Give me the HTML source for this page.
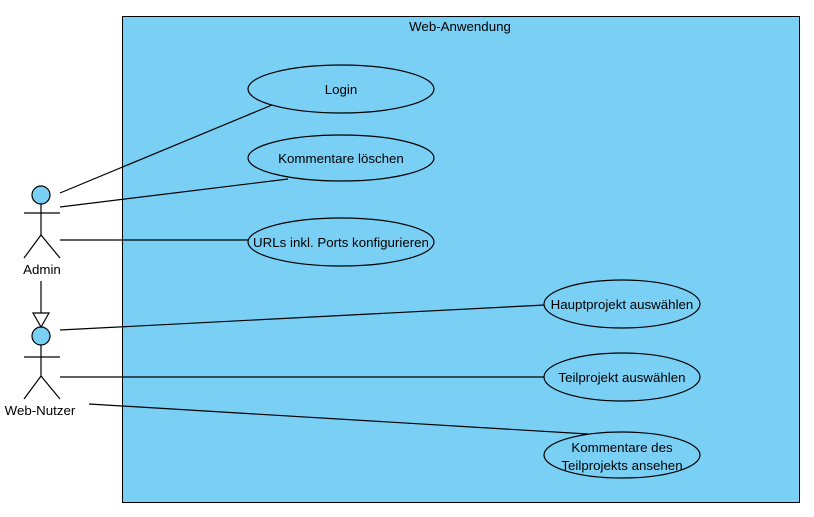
<!DOCTYPE html>
<html><head><meta charset="utf-8"><style>html,body{margin:0;padding:0;background:#fff}svg{display:block}</style></head>
<body>
<svg width="814" height="517" xmlns="http://www.w3.org/2000/svg" font-family="Liberation Sans, sans-serif" font-size="13.3" fill="#000">
<rect x="122.5" y="16.5" width="677" height="486" fill="#7acff5" stroke="#000" stroke-width="1"/>
<text x="460" y="31" text-anchor="middle">Web-Anwendung</text>
<g stroke="#000" stroke-width="1.2" fill="none">
<line x1="60" y1="193" x2="272" y2="105"/>
<line x1="60" y1="207" x2="288" y2="179"/>
<line x1="60" y1="240" x2="249" y2="240"/>
<line x1="60" y1="330" x2="545" y2="305"/>
<line x1="60" y1="377" x2="544" y2="377"/>
<line x1="89" y1="404" x2="588" y2="434"/>
</g>
<g stroke="#000" stroke-width="1.2" fill="#7acff5">
<ellipse cx="341" cy="89" rx="93" ry="24"/>
<ellipse cx="341" cy="158" rx="93" ry="23"/>
<ellipse cx="341" cy="242" rx="93" ry="24"/>
<ellipse cx="622" cy="304" rx="78" ry="24"/>
<ellipse cx="622" cy="377" rx="78" ry="24"/>
<ellipse cx="622" cy="455" rx="78" ry="23"/>
</g>
<g text-anchor="middle">
<text x="341" y="94">Login</text>
<text x="341" y="163">Kommentare löschen</text>
<text x="341" y="247">URLs inkl. Ports konfigurieren</text>
<text x="622" y="309">Hauptprojekt auswählen</text>
<text x="622" y="382">Teilprojekt auswählen</text>
<text x="622" y="452">Kommentare des</text>
<text x="622" y="470">Teilprojekts ansehen</text>
</g>
<g stroke="#000" stroke-width="1.2" fill="none">
<line x1="41" y1="204" x2="41" y2="235"/>
<line x1="24" y1="213" x2="60" y2="213"/>
<polyline points="24,258 41,235 60,258"/>
<line x1="41" y1="345" x2="41" y2="376"/>
<line x1="24" y1="357" x2="60" y2="357"/>
<polyline points="24,399 41,376 60,399"/>
<line x1="41" y1="281" x2="41" y2="313"/>
<polygon points="33,313 49,313 41,327" fill="#fff"/>
</g>
<g stroke="#000" stroke-width="1.2" fill="#7acff5">
<circle cx="41" cy="195" r="9"/>
<circle cx="41" cy="336" r="9"/>
</g>
<g text-anchor="middle">
<text x="42" y="274">Admin</text>
<text x="40" y="415">Web-Nutzer</text>
</g>
</svg>
</body></html>
